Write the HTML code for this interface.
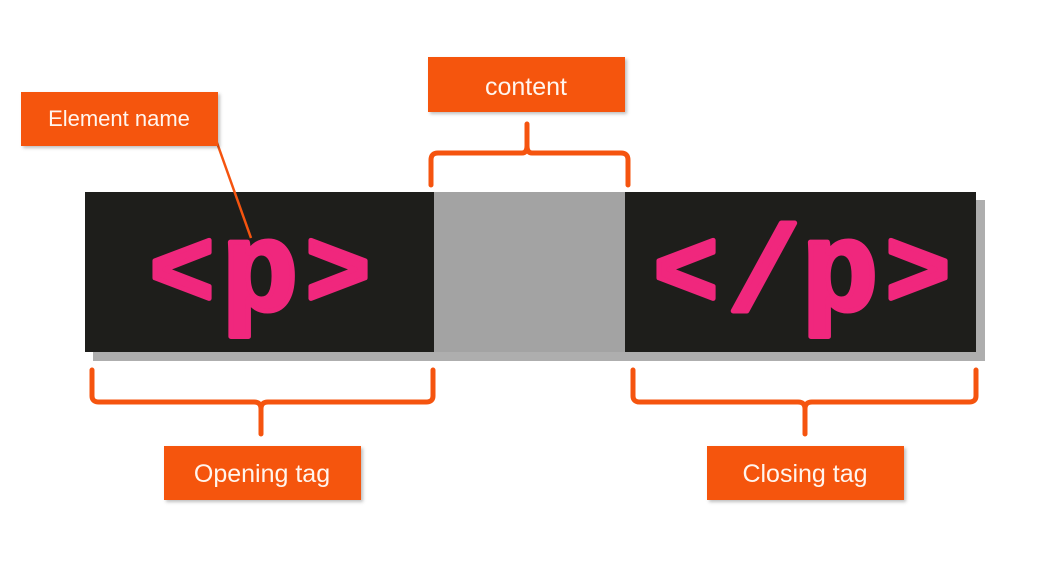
<!DOCTYPE html>
<html><head><meta charset="utf-8"><style>
html,body{margin:0;padding:0;background:#fff;}
svg{display:block}
</style></head><body>
<svg width="1039" height="584" viewBox="0 0 1039 584" xmlns="http://www.w3.org/2000/svg">
<defs>
<filter id="sh" x="-10%" y="-10%" width="130%" height="140%"><feDropShadow dx="2" dy="2" stdDeviation="1.5" flood-color="#000" flood-opacity="0.25"/></filter>
</defs>
<rect width="1039" height="584" fill="#fff"/>
<rect x="93" y="200" width="892" height="161" fill="#9a9a9a" opacity="0.8"/>
<rect x="85" y="192" width="891" height="160" fill="#1e1e1b"/>
<rect x="434" y="192" width="191" height="160" fill="#a3a3a3"/>
<g font-family="'Liberation Mono', monospace" font-weight="bold" fill="#f0277d" stroke="#f0277d" stroke-width="5" stroke-linejoin="round" text-anchor="middle">
<text x="182" y="305" font-size="108">&lt;</text>
<text x="260" y="310" font-size="128">p</text>
<text x="338" y="305" font-size="108">&gt;</text>
<text x="686" y="305" font-size="108">&lt;</text>
<text x="764" y="310" font-size="120">/</text>
<text x="840" y="310" font-size="128">p</text>
<text x="918" y="305" font-size="108">&gt;</text>
</g>
<line x1="216" y1="140" x2="251" y2="238" stroke="#f5540f" stroke-width="2.5"/>
<g fill="none" stroke="#f5540f" stroke-width="5" stroke-linejoin="round" stroke-linecap="round">
<path d="M431,185 V160 Q431,153 438,153 H522 Q527,153 527,146 V124 M527,146 Q527,153 532,153 H621 Q628,153 628,160 V185"/>
<path d="M92,370 V396 Q92,402 99,402 H254 Q261,402 261,409 V434 M261,409 Q261,402 268,402 H426 Q433,402 433,396 V370"/>
<path d="M633,370 V396 Q633,402 640,402 H798 Q805,402 805,409 V434 M805,409 Q805,402 812,402 H969 Q976,402 976,396 V370"/>
</g>
<g filter="url(#sh)" fill="#f5540f">
<rect x="21" y="92" width="197" height="54"/>
<rect x="428" y="57" width="197" height="55"/>
<rect x="164" y="446" width="197" height="54"/>
<rect x="707" y="446" width="197" height="54"/>
</g>
<g font-family="'Liberation Sans', sans-serif" fill="#fff5ee" text-anchor="middle">
<text x="119" y="126" font-size="22">Element name</text>
<text x="526" y="95" font-size="25">content</text>
<text x="262" y="482" font-size="25">Opening tag</text>
<text x="805" y="482" font-size="25">Closing tag</text>
</g>
</svg>
</body></html>
